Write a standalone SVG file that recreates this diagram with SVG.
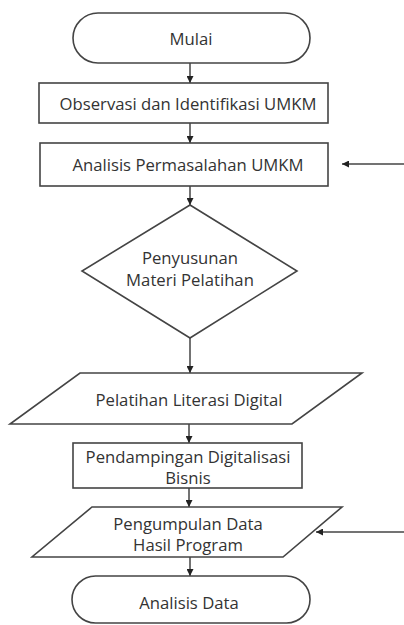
<svg xmlns="http://www.w3.org/2000/svg" width="404" height="625" viewBox="0 0 404 625">
<style>
.s{fill:#fff;stroke:#444;stroke-width:1.6}
.t{font-family:"Open Sans","Liberation Sans",sans-serif;font-size:16.7px;fill:#333;text-anchor:middle;dominant-baseline:central}
.c{stroke:#444;stroke-width:1.5;fill:none;marker-end:url(#ah)}
</style>
<defs>
<marker id="ah" viewBox="0 0 10 10" refX="10" refY="5" markerWidth="7" markerHeight="7" markerUnits="userSpaceOnUse" orient="auto">
<path d="M0,0 L10,5 L0,10 z" fill="#222"/>
</marker>
</defs>
<rect width="404" height="625" fill="#fff"/>
<g id="connectors">
<line class="c" x1="190" y1="63" x2="190" y2="83"/>
<line class="c" x1="190" y1="123" x2="190" y2="143"/>
<line class="c" x1="404" y1="164" x2="342" y2="164"/>
<line class="c" x1="190" y1="186" x2="190" y2="205"/>
<line class="c" x1="190" y1="338" x2="190" y2="373"/>
<line class="c" x1="189" y1="424" x2="189" y2="443"/>
<line class="c" x1="189" y1="488" x2="189" y2="507"/>
<line class="c" x1="404" y1="532" x2="316" y2="532"/>
<line class="c" x1="190" y1="557" x2="190" y2="576"/>
</g>
<g id="mulai">
<rect class="s" x="73" y="13" width="237" height="50" rx="25"/>
<text class="t" x="191" y="38">Mulai</text>
</g>
<g id="observasi">
<rect class="s" x="39" y="83" width="289" height="40"/>
<text class="t" x="188" y="103">Observasi dan Identifikasi UMKM</text>
</g>
<g id="analisis-permasalahan">
<rect class="s" x="40" y="143" width="288" height="43"/>
<text class="t" x="188" y="164.5">Analisis Permasalahan UMKM</text>
</g>
<g id="penyusunan">
<polygon class="s" points="190,205 297,271 190,338 82,271"/>
<text class="t" x="190" y="257">Penyusunan</text>
<text class="t" x="190" y="279">Materi Pelatihan</text>
</g>
<g id="pelatihan">
<polygon class="s" points="80,373 362,373 292,424 10,424"/>
<text class="t" x="189" y="399">Pelatihan Literasi Digital</text>
</g>
<g id="pendampingan">
<rect class="s" x="73" y="443" width="229" height="45"/>
<text class="t" x="188" y="456">Pendampingan Digitalisasi</text>
<text class="t" x="188" y="477">Bisnis</text>
</g>
<g id="pengumpulan">
<polygon class="s" points="92,507 342,507 283,557 32,557"/>
<text class="t" x="188" y="523">Pengumpulan Data</text>
<text class="t" x="188" y="544">Hasil Program</text>
</g>
<g id="analisis-data">
<rect class="s" x="72" y="576" width="238" height="47" rx="23.5"/>
<text class="t" x="189" y="602">Analisis Data</text>
</g>
</svg>
